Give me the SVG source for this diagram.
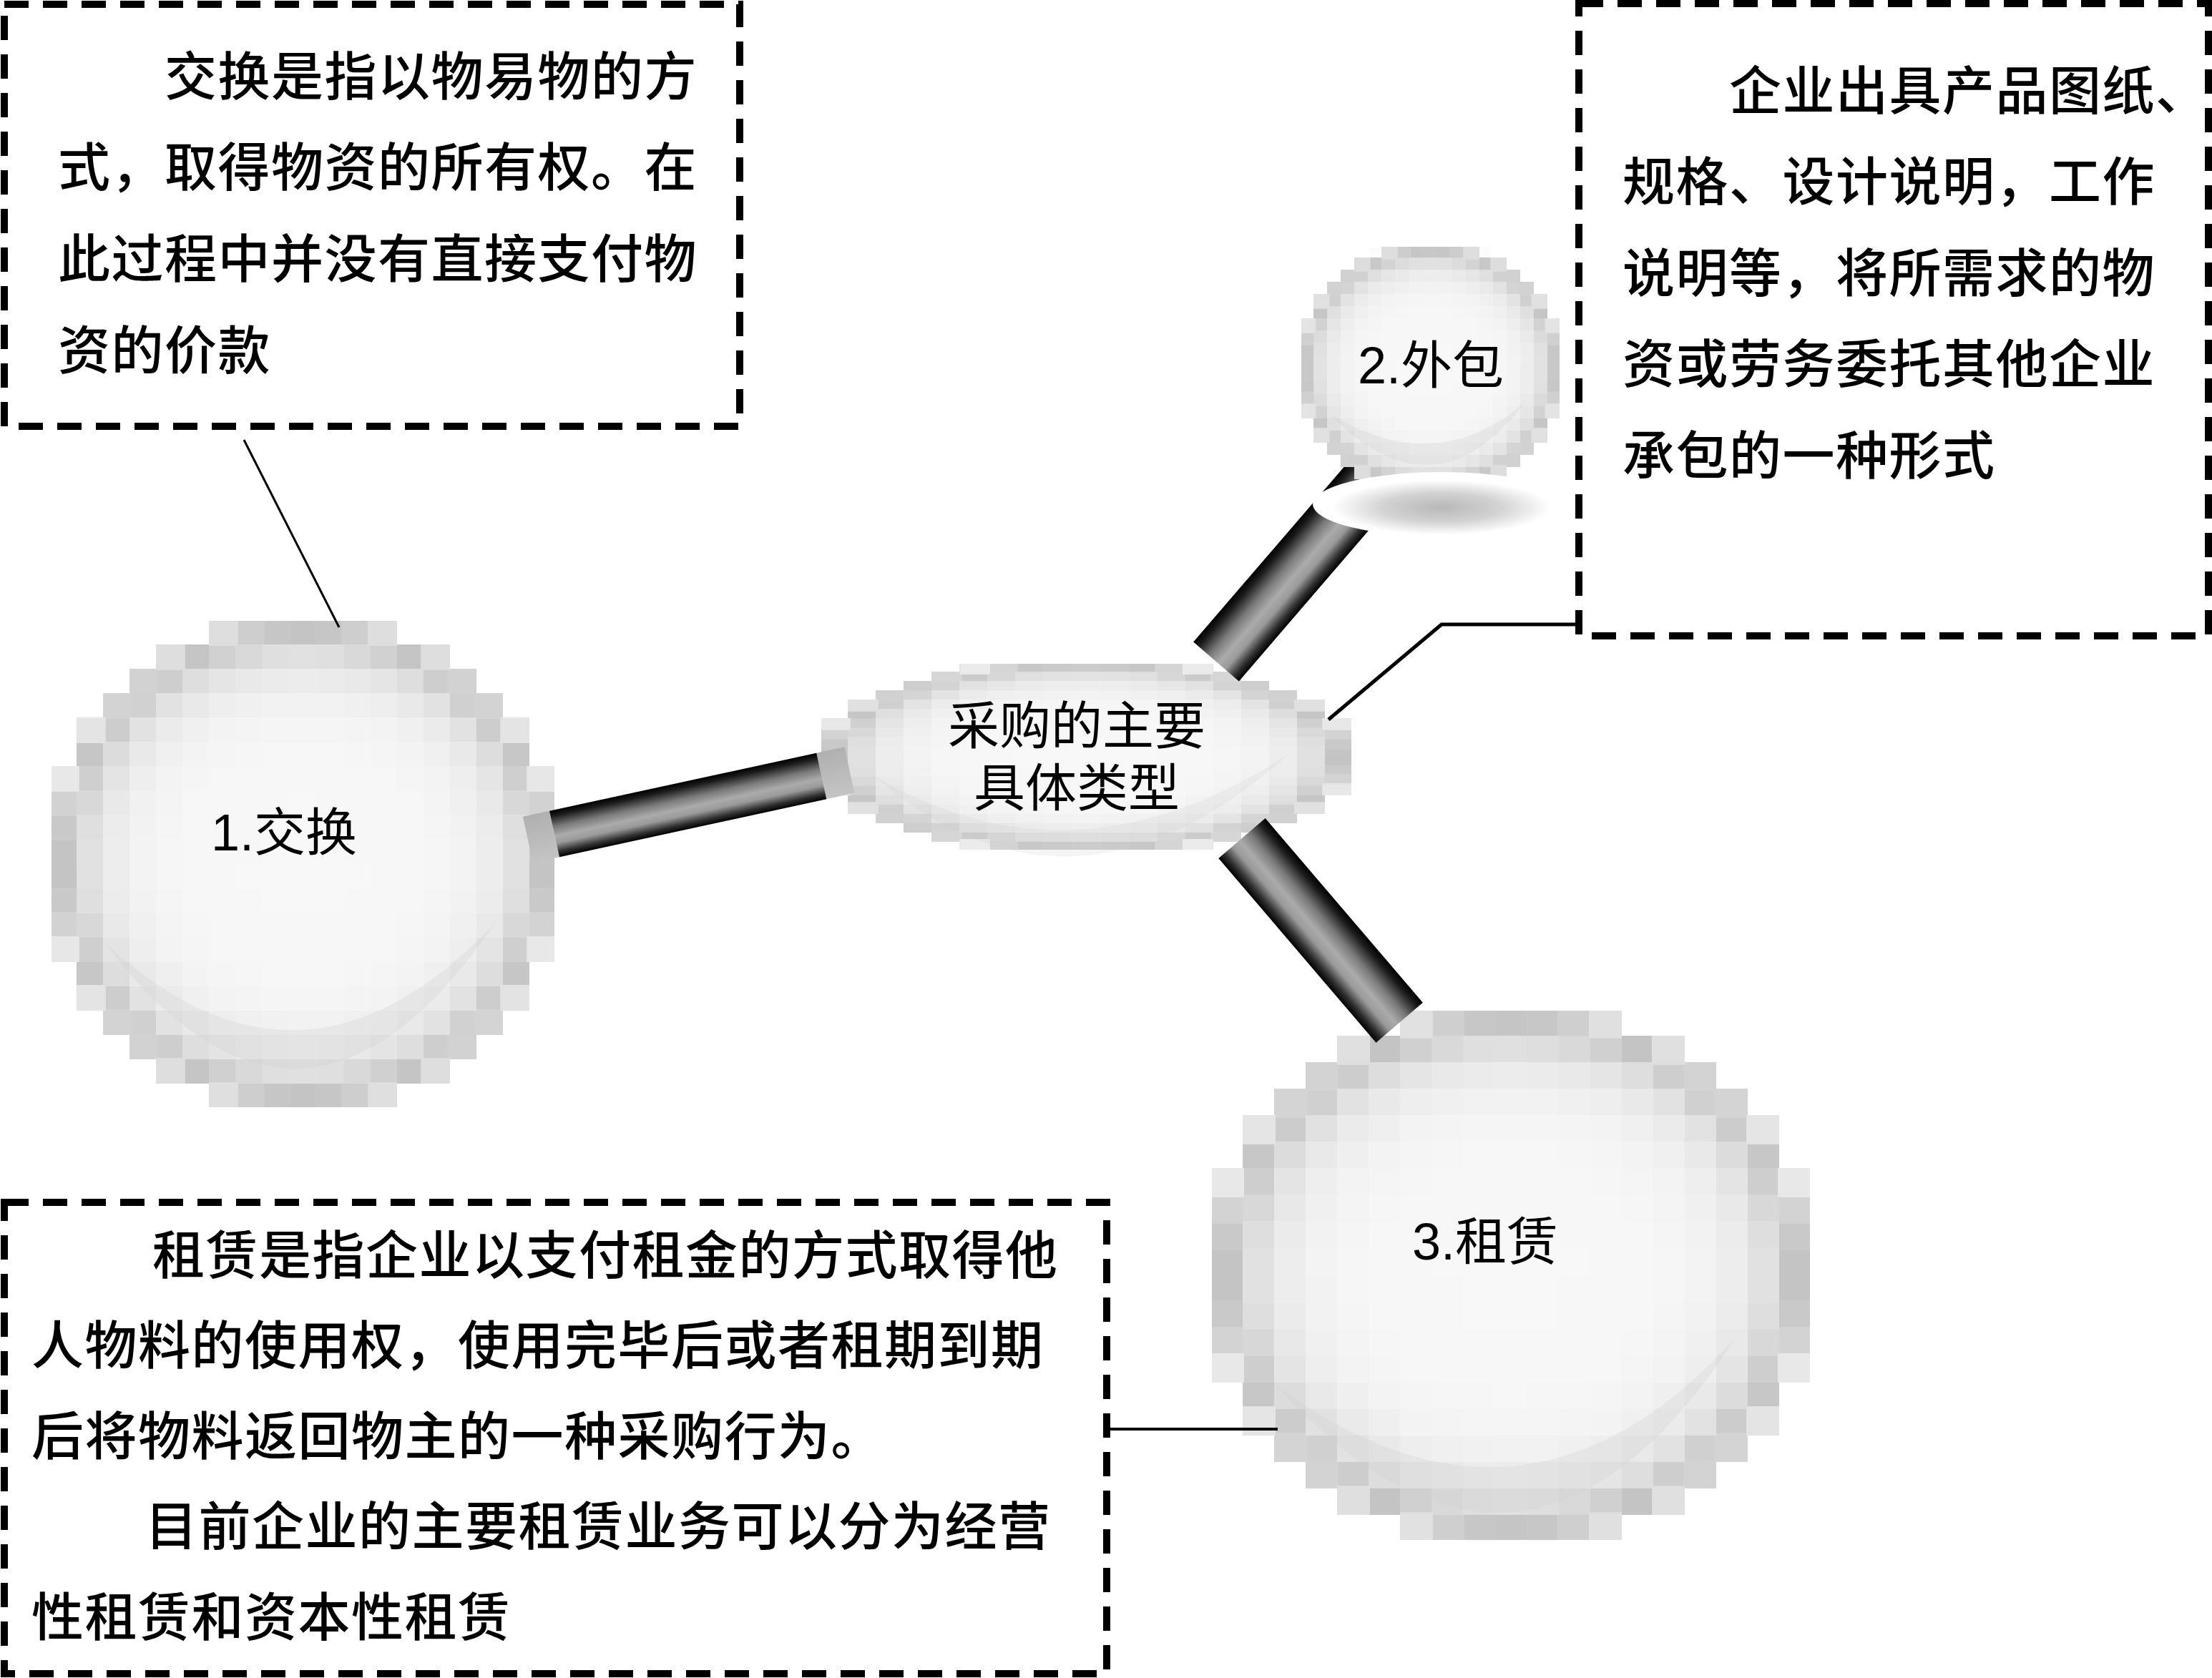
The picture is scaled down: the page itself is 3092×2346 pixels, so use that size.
<svg xmlns="http://www.w3.org/2000/svg" width="3092" height="2346" viewBox="0 0 3092 2346">
<style>
.box{fill:none;stroke:#000;stroke-width:10;stroke-dasharray:34 20}
.txt{font-family:"Noto Sans CJK SC","Noto Sans",sans-serif;font-size:73px;font-weight:500;letter-spacing:1.5px;fill:#000}
.lbl{font-family:"Liberation Sans","Noto Sans CJK SC",sans-serif;font-size:72px;fill:#000;text-anchor:middle}
.thin{fill:none;stroke:#000;stroke-linecap:butt;stroke-linejoin:miter}
.sheen{fill:#cfcfcf;opacity:0.3}
</style>
<defs>
<radialGradient id="ring" cx="0.5" cy="0.5" r="0.5">
<stop offset="0" stop-color="#f8f8f8"/>
<stop offset="0.5" stop-color="#f6f6f6"/>
<stop offset="0.63" stop-color="#f2f2f2"/>
<stop offset="0.73" stop-color="#ececec"/>
<stop offset="0.83" stop-color="#e0e0e0"/>
<stop offset="0.93" stop-color="#c3c3c3"/>
<stop offset="0.97" stop-color="#d6d6d6"/>
<stop offset="1" stop-color="#eeeeee"/>
</radialGradient>
<linearGradient id="bar" x1="0" y1="0" x2="0" y2="1">
<stop offset="0" stop-color="#000"/>
<stop offset="0.12" stop-color="#1c1c1c"/>
<stop offset="0.35" stop-color="#7a7a7a"/>
<stop offset="0.55" stop-color="#ababab"/>
<stop offset="0.7" stop-color="#9a9a9a"/>
<stop offset="0.88" stop-color="#303030"/>
<stop offset="1" stop-color="#000"/>
</linearGradient>
<linearGradient id="cap" x1="0" y1="0" x2="0" y2="1">
<stop offset="0" stop-color="#b0b0b0"/>
<stop offset="1" stop-color="#c4c4c4"/>
</linearGradient>
<radialGradient id="shadow" cx="0.5" cy="0.55" r="0.5">
<stop offset="0" stop-color="#b8b8b8"/>
<stop offset="0.45" stop-color="#d2d2d2"/>
<stop offset="0.85" stop-color="#ffffff"/>
<stop offset="1" stop-color="#ffffff"/>
</radialGradient>
<filter id="px1" filterUnits="userSpaceOnUse" x="0" y="0" width="703" height="680" color-interpolation-filters="sRGB">
<feFlood x="17.5" y="16" width="2" height="2" flood-color="#000" result="dot"/>
<feComposite in="dot" in2="dot" operator="over" x="0" y="0" width="37" height="34" result="cell"/>
<feTile in="cell" result="grid"/>
<feComposite in="SourceGraphic" in2="grid" operator="in" result="samp"/>
<feMorphology in="samp" operator="dilate" radius="18.5 17"/>
</filter>
<filter id="px2" filterUnits="userSpaceOnUse" x="0" y="0" width="361" height="340" color-interpolation-filters="sRGB">
<feFlood x="8.5" y="7.5" width="2" height="2" flood-color="#000" result="dot"/>
<feComposite in="dot" in2="dot" operator="over" x="0" y="0" width="19" height="17" result="cell"/>
<feTile in="cell" result="grid"/>
<feComposite in="SourceGraphic" in2="grid" operator="in" result="samp"/>
<feMorphology in="samp" operator="dilate" radius="9.5 8.5"/>
</filter>
<filter id="px3" filterUnits="userSpaceOnUse" x="0" y="0" width="836" height="740" color-interpolation-filters="sRGB">
<feFlood x="21" y="17.5" width="2" height="2" flood-color="#000" result="dot"/>
<feComposite in="dot" in2="dot" operator="over" x="0" y="0" width="44" height="37" result="cell"/>
<feTile in="cell" result="grid"/>
<feComposite in="SourceGraphic" in2="grid" operator="in" result="samp"/>
<feMorphology in="samp" operator="dilate" radius="22 18.5"/>
</filter>
<filter id="px0" filterUnits="userSpaceOnUse" x="0" y="0" width="741" height="260" color-interpolation-filters="sRGB">
<feFlood x="18.5" y="5.5" width="2" height="2" flood-color="#000" result="dot"/>
<feComposite in="dot" in2="dot" operator="over" x="0" y="0" width="39" height="13" result="cell"/>
<feTile in="cell" result="grid"/>
<feComposite in="SourceGraphic" in2="grid" operator="in" result="samp"/>
<feMorphology in="samp" operator="dilate" radius="19.5 6.5"/>
</filter>
</defs>

<rect width="3092" height="2346" fill="#fff"/>

<g id="box-exchange">
<rect class="box" x="6" y="6" width="1028" height="590"/>
<text class="txt" x="230" y="133">交换是指以物易物的方</text>
<text class="txt" x="81" y="260">式，取得物资的所有权。在</text>
<text class="txt" x="81" y="388">此过程中并没有直接支付物</text>
<text class="txt" x="81" y="516">资的价款</text>
</g>

<g id="box-outsourcing">
<rect class="box" x="2207" y="5" width="880" height="884"/>
<text class="txt" x="2417" y="153">企业出具产品图纸、</text>
<text class="txt" x="2268" y="280">规格、设计说明，工作</text>
<text class="txt" x="2268" y="408">说明等，将所需求的物</text>
<text class="txt" x="2268" y="535">资或劳务委托其他企业</text>
<text class="txt" x="2268" y="663">承包的一种形式</text>
</g>

<g id="box-lease">
<rect class="box" x="6" y="1681" width="1541" height="659"/>
<text class="txt" x="213" y="1781">租赁是指企业以支付租金的方式取得他</text>
<text class="txt" x="44" y="1907">人物料的使用权，使用完毕后或者租期到期</text>
<text class="txt" x="44" y="2034">后将物料返回物主的一种采购行为。</text>
<text class="txt" x="203" y="2160">目前企业的主要租赁业务可以分为经营</text>
<text class="txt" x="44" y="2287">性租赁和资本性租赁</text>
</g>

<g id="node-exchange">
<g transform="translate(72,868)">
<ellipse cx="351.5" cy="340" rx="359" ry="348" fill="url(#ring)" filter="url(#px1)"/>
</g>
<path class="sheen" d="M144,1315 Q423,1686 693,1289 Q423,1578 144,1315 Z"/>
<text class="lbl" x="397" y="1189">1.交换</text>
</g>

<g id="node-lease">
<g transform="translate(1694,1413)">
<ellipse cx="418" cy="370" rx="426" ry="378" fill="url(#ring)" filter="url(#px3)"/>
</g>
<path class="sheen" d="M1783,1936 Q2133,2324 2427,1869 Q2133,2196 1783,1936 Z"/>
<text class="lbl" x="2076" y="1761">3.租赁</text>
</g>

<g id="node-center">
<g transform="translate(1148,928)">
<ellipse cx="370.5" cy="130" rx="378" ry="136" fill="url(#ring)" filter="url(#px0)"/>
</g>
<path class="sheen" d="M1219,1083 Q1500,1326 1803,1053 Q1500,1252 1219,1083 Z" style="opacity:0.2"/>
<text class="lbl" x="1505" y="1040">采购的主要</text>
<text class="lbl" x="1505" y="1127">具体类型</text>
</g>

<g id="connectors">
<line class="thin" x1="341" y1="615" x2="474" y2="877" stroke-width="3"/>
<polyline class="thin" points="1857,1006 2015,873 2208,873" stroke-width="5"/>
<line class="thin" x1="1549" y1="1998" x2="1786" y2="1998" stroke-width="4"/>
<g transform="translate(775,1166) rotate(-12.25)">
<rect x="-38" y="-33" width="38" height="66" fill="url(#cap)"/>
<rect x="382" y="-33" width="40" height="66" fill="url(#cap)"/>
<rect x="0" y="-33" width="382" height="66" fill="url(#bar)"/>
</g>
<g transform="translate(1700,925) rotate(-49.3)">
<rect x="0" y="-42" width="400" height="84" fill="url(#bar)"/>
</g>
<g transform="translate(1736,1172) rotate(49.5)">
<rect x="0" y="-43" width="339" height="86" fill="url(#bar)"/>
</g>
</g>

<g id="node-outsourcing">
<g transform="translate(1819,345)">
<ellipse cx="180.5" cy="170" rx="186" ry="175" fill="url(#ring)" filter="url(#px2)"/>
</g>
<path class="sheen" d="M1856,577 Q2006,730 2131,563 Q2006,670 1856,577 Z"/>
<ellipse cx="2015" cy="705" rx="180" ry="45" fill="url(#shadow)"/>
<text class="lbl" x="2000" y="536">2.外包</text>
</g>
</svg>
